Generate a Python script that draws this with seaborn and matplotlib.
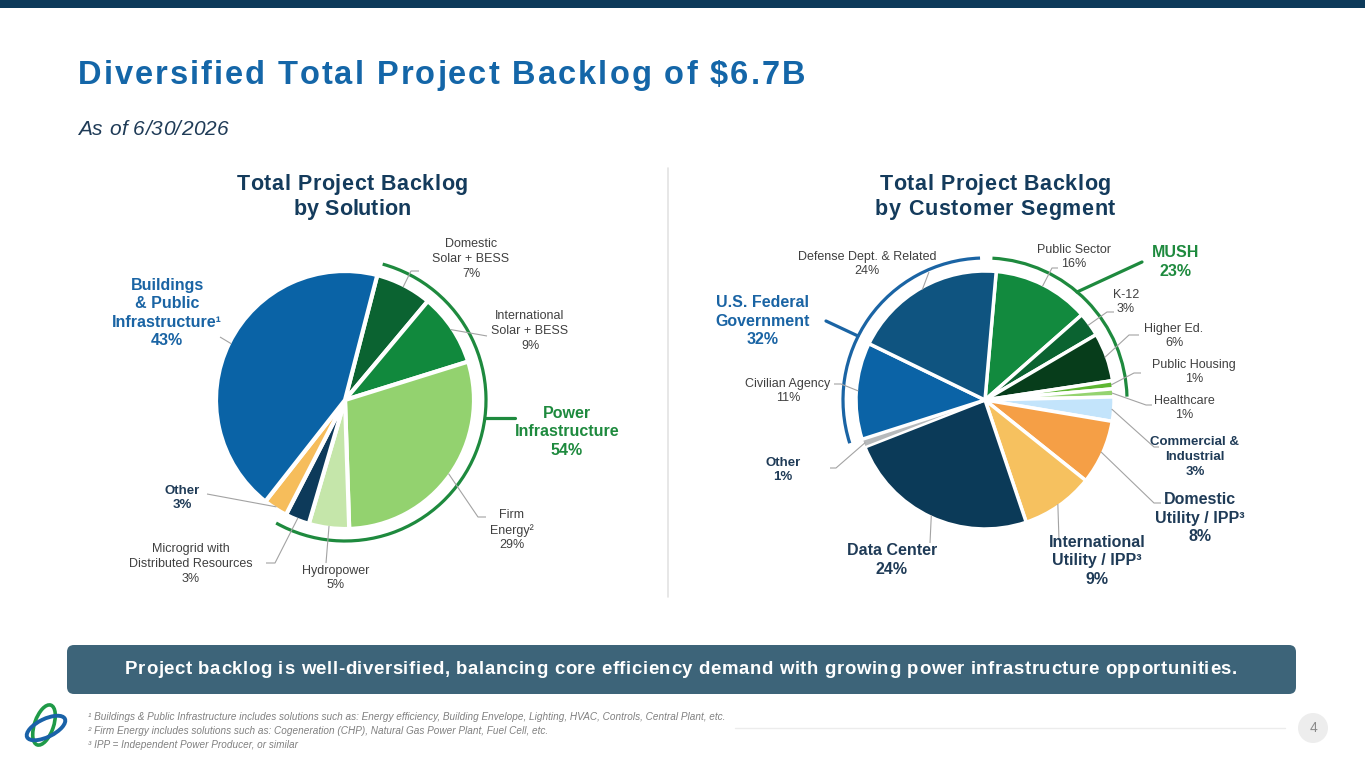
import matplotlib
matplotlib.use("Agg")
import matplotlib.pyplot as plt
from matplotlib.patches import Arc, Ellipse, FancyBboxPatch, Circle
from matplotlib import font_manager
from matplotlib.ft2font import FT2Font
import numpy as np
import seaborn as sns

# ---------------- data ----------------
# left pie, clockwise from the top
solution_labels = ["Domestic\nSolar + BESS", "International\nSolar + BESS", "Firm\nEnergy\u00b2",
                   "Hydropower", "Microgrid with\nDistributed Resources", "Other",
                   "Buildings\n& Public\nInfrastructure\u00b9"]
solution_share = [7, 9, 29, 5, 3, 3, 43]
solution_pct = ["7%", "9%", "29%", "5%", "3%", "3%", "43%"]
solution_colors = ["#0b6331", "#11893d", "#93d26f", "#c5e6aa", "#0d3a5a", "#f6bd5b", "#0a63a6"]

# right pie, clockwise from the top (slice sizes as drawn, printed % as on the slide)
segment_labels = ["Public Sector", "K-12", "Higher Ed.", "Public Housing", "Healthcare",
                  "Commercial &\nIndustrial", "Domestic\nUtility / IPP\u00b3",
                  "International\nUtility / IPP\u00b3", "Data Center", "Other",
                  "Civilian Agency", "Defense Dept. & Related"]
segment_share = [12, 3, 6, 1, 1, 3, 8, 9, 24, 1, 12, 19]
segment_pct = ["16%", "3%", "6%", "1%", "1%", "3%", "8%", "9%", "24%", "1%", "11%", "24%"]
segment_colors = ["#128a3e", "#0b6331", "#073d1b", "#5db632", "#94d36f", "#c3e4fb",
                  "#f59f46", "#f6c15f", "#0b3a58", "#b6b9bb", "#0b63a6", "#0f5480"]

group_power = "Power\nInfrastructure\n54%"
group_mush = "MUSH\n23%"
group_federal = "U.S. Federal\nGovernment\n32%"

# ---------------- style ----------------
sns.set_theme(style="white")
plt.rcParams['font.family'] = ['Liberation Sans', 'DejaVu Sans']

W, H = 1365, 768
NAVY = "#1f3b57"
BLUE = "#1a64a4"
GREEN = "#1e8a3e"
GREY_TXT = "#404040"
LEADER = "#a3a3a3"

styles = {
    "small": dict(fontsize=9, color=GREY_TXT),
    "bsmall": dict(fontsize=9.5, color=NAVY, fontweight="bold"),
    "bbig": dict(fontsize=11.5, color=NAVY, fontweight="bold"),
    "blue": dict(fontsize=11.5, color=BLUE, fontweight="bold"),
    "green": dict(fontsize=11.5, color=GREEN, fontweight="bold"),
}

fig = plt.figure(figsize=(W / 100, H / 100), dpi=100)
ax = fig.add_axes([0, 0, 1, 1])


def Y(y):
    # image row -> axes y (pixels, y up)
    return H - y


def char_advances(s, size, weight="normal", style="normal"):
    fp = font_manager.FontProperties(family="Liberation Sans", weight=weight, style=style)
    font = FT2Font(font_manager.findfont(fp))
    font.set_size(size, 100)
    adv = []
    for ch in s:
        g = font.load_char(ord(ch))
        adv.append(g.linearHoriAdvance / 65536)
    return adv


def tracked_text(x, y, s, size, width, align="left", weight="normal", style="normal", **kw):
    # letter-spaced text: spread characters so the line is `width` px long
    adv = char_advances(s, size, weight, style)
    track = (width - sum(adv)) / max(len(s) - 1, 1)
    x0 = x - width / 2 if align == "center" else x
    for ch, a in zip(s, adv):
        ax.text(x0, Y(y), ch, fontsize=size, fontweight=weight, fontstyle=style,
                ha="left", va="baseline", **kw)
        x0 += a + track


def mid_angles(share, start):
    frac = np.array(share) / np.sum(share) * 360
    ends = start + np.cumsum(frac)
    return ends - frac / 2, start + np.concatenate([[0], np.cumsum(frac)])


def on_circle(c, r, a):
    a = np.radians(a)
    return c[0] + r * np.sin(a), c[1] - r * np.cos(a)


def draw_pie(share, colors, c, r, start, lw, explode=None):
    wedges, _ = ax.pie(share, colors=colors, startangle=90 - start, counterclock=False,
                       center=(c[0], Y(c[1])), radius=r, explode=explode, frame=True,
                       wedgeprops=dict(edgecolor="white", linewidth=lw))
    return wedges


def label(txt, pos, style, ls=1.28):
    ax.text(pos[0], Y(pos[1]), txt, ha="center", va="center", multialignment="center",
            linespacing=ls, **styles[style])


def leader(pts, color=LEADER, lw=0.8):
    xs = [p[0] for p in pts]
    ys = [Y(p[1]) for p in pts]
    ax.plot(xs, ys, color=color, lw=lw, solid_capstyle="butt")


def bracket(c, r, a0, a1, color):
    ax.add_patch(Arc((c[0], Y(c[1])), 2 * r, 2 * r, theta1=90 - a1, theta2=90 - a0,
                     color=color, lw=2.3))


# ---------------- left pie ----------------
cL, rL, startL = (345, 400), 129, 14.5
draw_pie(solution_share, solution_colors, cL, rL, startL, 3)
midL, edgeL = mid_angles(solution_share, startL)

left_layout = [
    ((471, 259), "small", [(411, 271), (419, 271)]),
    ((530, 331), "small", [(487, 336)]),
    ((512, 530), "small", [(478, 517), (486, 517)]),
    ((336, 578), "small", [(326, 563)]),
    ((191, 564), "small", [(275, 563), (266, 563)]),
    ((182, 498), "bsmall", [(207, 494)]),
    ((167, 313), "blue", [(220, 337)]),
]
for i, (pos, st, pts) in enumerate(left_layout):
    p0 = on_circle(cL, rL - 2, midL[i])
    leader([p0] + pts)
    ls = 1.3 if st == "blue" else 1.28
    label(solution_labels[i] + "\n" + solution_pct[i], pos, st, ls)

bracket(cL, 141, edgeL[0] + 1, edgeL[5] + 2, GREEN)
ax.plot([345 + np.sqrt(141 ** 2 - 18 ** 2), 515], [Y(418), Y(418)], color=GREEN, lw=2.3)
label(group_power, (567, 432), "green", 1.3)

# ---------------- right pie ----------------
cR, rR, startR = (985, 400), 129, 5
explodeR = [0, 0, 0, 0, 0, 0, 0, 0, 0, 0.03, 0, 0]
wedgesR = draw_pie(segment_share, segment_colors, cR, rR, startR, 2.5, explodeR)
wedgesR[9].set_linewidth(1.2)
midR, edgeR = mid_angles(segment_share, startR)

right_layout = [
    ((1074, 257), "small", [(1052, 268), (1058, 268)]),
    ((1126, 302), "small", [(1107, 312), (1114, 312)]),
    ((1174, 336), "small", [(1129, 335), (1139, 335)]),
    ((1194, 372), "small", [(1134, 373), (1141, 373)]),
    ((1184, 408), "small", [(1146, 405), (1152, 405)]),
    ((1195, 457), "bsmall", [(1154, 447), (1159, 447)]),
    ((1200, 518), "bbig", [(1154, 503), (1161, 503)]),
    ((1097, 561), "bbig", [(1059, 540)]),
    ((892, 560), "bbig", [(930, 543)]),
    ((783, 470), "bsmall", [(836, 468), (830, 468)]),
    ((788, 391), "small", [(841, 384), (834, 384)]),
    ((867, 264), "small", [(929, 272)]),
]
for i, (pos, st, pts) in enumerate(right_layout):
    p0 = on_circle(cR, rR - 2, midR[i])
    leader([p0] + pts)
    ls = 1.3 if st == "bbig" else 1.28
    label(segment_labels[i] + "\n" + segment_pct[i], pos, st, ls)

# MUSH = first five segments, U.S. Federal = last two
bracket(cR, 142, edgeR[0] - 2, edgeR[5], GREEN)
bracket(cR, 142, edgeR[10], edgeR[12] - 7, BLUE)
ax.plot([1077, 1142], [Y(292), Y(262)], color=GREEN, lw=2.3)
ax.plot([858, 826], [Y(336), Y(321)], color=BLUE, lw=2.3)
label(group_mush, (1176, 262), "green", 1.3)
label(group_federal, (763, 321), "blue", 1.3)

# ---------------- page furniture ----------------
ax.add_patch(plt.Rectangle((0, Y(8)), W, 8, color="#0d3a5a", lw=0))
tracked_text(78, 84, "Diversified Total Project Backlog of $6.7B", 23.5, 727,
             weight="bold", color="#1466a8")
tracked_text(78, 135, "As of 6/30/2026", 15, 150, style="italic", color=NAVY)
tracked_text(352, 190, "Total Project Backlog", 15.5, 231, align="center",
             weight="bold", color="#143b5c")
tracked_text(352, 215, "by Solution", 15.5, 117, align="center",
             weight="bold", color="#143b5c")
tracked_text(995, 190, "Total Project Backlog", 15.5, 231, align="center",
             weight="bold", color="#143b5c")
tracked_text(995, 215, "by Customer Segment", 15.5, 240, align="center",
             weight="bold", color="#143b5c")
ax.plot([668, 668], [Y(168), Y(597)], color="#e3e3e3", lw=1.2)

ax.add_patch(FancyBboxPatch((67, Y(694)), 1229, 49, boxstyle="round,pad=0,rounding_size=7",
                            color="#3d6479", lw=0))
tracked_text(681, 674, "Project backlog is well-diversified, balancing core efficiency demand "
             "with growing power infrastructure opportunities.", 13.4, 1112, align="center",
             weight="bold", color="white")

notes = [
    "\u00b9 Buildings & Public Infrastructure includes solutions such as: Energy efficiency, "
    "Building Envelope, Lighting, HVAC, Controls, Central Plant, etc.",
    "\u00b2 Firm Energy includes solutions such as: Cogeneration (CHP), Natural Gas Power Plant, "
    "Fuel Cell, etc.",
    "\u00b3 IPP = Independent Power Producer, or similar",
]
for k, t in enumerate(notes):
    ax.text(88, Y(717 + 14 * k), t, fontsize=7.2, fontstyle="italic", color="#808080",
            ha="left", va="center")

ax.plot([735, 1285], [Y(728), Y(728)], color="#ececec", lw=1)
ax.add_patch(Circle((1313, Y(728)), 15, color="#ededed", lw=0))
ax.text(1313, Y(728), "4", fontsize=10, color="#8a8a8a", ha="center", va="center")

# logo
ax.add_patch(Ellipse((44, Y(725)), 19, 42, angle=-19, fill=False, ec="#1f9a48", lw=2.6))
ax.add_patch(Ellipse((46, Y(728)), 42, 18, angle=26, fill=False, ec="#1a62a8", lw=2.8))

ax.set_xlim(0, W)
ax.set_ylim(0, H)
ax.set_aspect("equal")
ax.axis("off")
fig.savefig("out.png", dpi=100)
